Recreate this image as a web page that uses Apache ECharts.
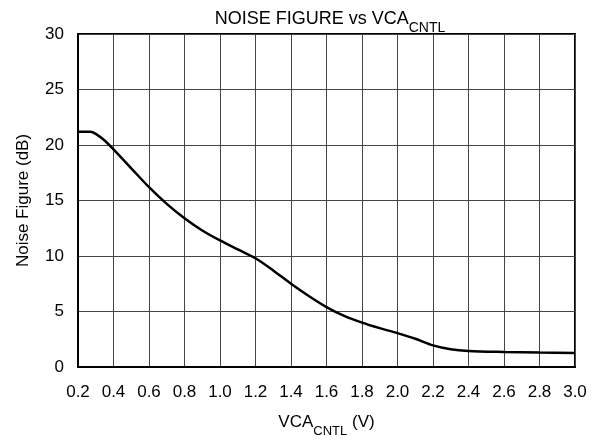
<!DOCTYPE html>
<html>
<head>
<meta charset="utf-8">
<script src="https://cdn.jsdelivr.net/npm/echarts@6/dist/echarts.min.js"></script>
<style>
  html, body { margin: 0; padding: 0; background: #fff; }
  #chart { width: 605px; height: 443px; }
</style>
</head>
<body>
<div id="chart"></div>
<script>
// VCA control voltage (V) and noise figure (dB)
const vcaCntl = [0.2, 0.27, 0.3, 0.35, 0.4, 0.5, 0.6, 0.7, 0.8, 0.9, 1.0, 1.1, 1.2, 1.3, 1.4, 1.5, 1.6, 1.7, 1.8, 1.9, 2.0, 2.1, 2.2, 2.3, 2.4, 2.6, 2.8, 3.0]
const noiseFigure = [21.2, 21.2, 21.0, 20.4, 19.6, 17.9, 16.2, 14.7, 13.4, 12.3, 11.4, 10.6, 9.8, 8.7, 7.5, 6.4, 5.4, 4.6, 4.0, 3.5, 3.05, 2.55, 1.95, 1.6, 1.45, 1.36, 1.3, 1.27]

const xTicks = [0.2, 0.4, 0.6, 0.8, 1.0, 1.2, 1.4, 1.6, 1.8, 2.0, 2.2, 2.4, 2.6, 2.8, 3.0]
const yTicks = [0, 5, 10, 15, 20, 25, 30]

const font = 'Liberation Sans, Arial, sans-serif'

const chart = echarts.init(document.getElementById('chart'))

const option = {
  animation: false,
  title: {
    text: '{a|NOISE FIGURE vs VCA}{b|CNTL}',
    left: 325,
    top: 3,
    textAlign: 'center',
    textStyle: {
      rich: {
        a: { fontFamily: font, fontSize: 18, fontWeight: 'normal', color: '#000', lineHeight: 22 },
        b: { fontFamily: font, fontSize: 14, fontWeight: 'normal', color: '#000', lineHeight: 22, verticalAlign: 'bottom', padding: [0, 0, -5, 0] }
      }
    }
  },
  grid: {
    left: 78,
    right: 30,
    top: 34,
    bottom: 71,
    show: true,
    borderColor: '#000',
    borderWidth: 2
  },
  xAxis: {
    type: 'value',
    min: 0.2,
    max: 3.0,
    interval: 0.2,
    name: '{a|VCA}{b|CNTL}{a| (V)}',
    nameLocation: 'middle',
    nameGap: 44,
    nameTextStyle: {
      rich: {
        a: { fontFamily: font, fontSize: 17, color: '#000', lineHeight: 22 },
        b: { fontFamily: font, fontSize: 13, color: '#000', lineHeight: 22, verticalAlign: 'bottom', padding: [0, 0, -5, 0] }
      }
    },
    axisLine: { show: true, lineStyle: { color: '#000', width: 2 } },
    axisTick: { show: false },
    splitLine: { show: true, lineStyle: { color: '#444', width: 1 } },
    axisLabel: {
      margin: 17,
      fontFamily: font,
      fontSize: 17,
      color: '#000',
      formatter: v => xTicks.some(t => Math.abs(t - v) < 1e-6) ? v.toFixed(1) : ''
    }
  },
  yAxis: {
    type: 'value',
    min: 0,
    max: 30,
    interval: 5,
    name: 'Noise Figure (dB)',
    nameLocation: 'middle',
    nameGap: 46,
    nameTextStyle: { fontFamily: font, fontSize: 17, color: '#000' },
    axisLine: { show: true, lineStyle: { color: '#000', width: 2 } },
    axisTick: { show: false },
    splitLine: { show: true, lineStyle: { color: '#444', width: 1 } },
    axisLabel: {
      margin: 14,
      fontFamily: font,
      fontSize: 17,
      color: '#000',
      formatter: v => yTicks.includes(v) ? String(v) : ''
    }
  },
  series: [
    {
      type: 'line',
      data: vcaCntl.map((x, i) => [x, noiseFigure[i]]),
      smooth: 0.3,
      showSymbol: false,
      lineStyle: { color: '#000', width: 2.5 }
    }
  ]
}

chart.setOption(option)
</script>
</body>
</html>
